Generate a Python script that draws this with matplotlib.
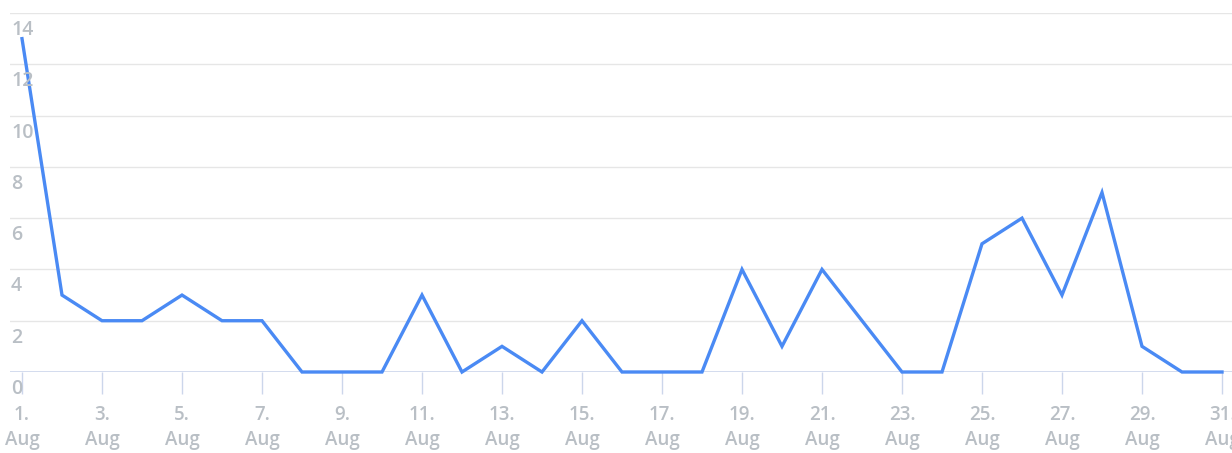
import numpy as np
import matplotlib.pyplot as plt
from matplotlib.transforms import blended_transform_factory

days = list(range(1, 32))
counts = [13, 3, 2, 2, 3, 2, 2, 0, 0, 0, 3, 0, 1, 0, 2, 0, 0, 0, 4, 1, 4, 2, 0, 0, 5, 6, 3, 7, 1, 0, 0]
y_ticks = [0, 2, 4, 6, 8, 10, 12, 14]
label_days = days[::2]
x_labels = ['%d.\nAug' % d for d in label_days]

W, H = 1232, 453
fig = plt.figure(figsize=(W / 100, H / 100), dpi=100)
ax = fig.add_axes([10 / W, (H - 372) / H, (W - 10) / W, (372 - 13) / H])

txt_color = '#b9bfc5'
font = 'Open Sans'

ax.plot(days, counts, color='#4a8af4', lw=2.4, solid_joinstyle='miter', zorder=3, clip_on=False)

ax.set_xlim(0.7, 31.25)
ax.set_ylim(0, 14)

for v in y_ticks[1:]:
    ax.axhline(v, color='#e6e6e6', lw=1, zorder=1)
ax.axhline(0, color='#ccd6eb', lw=1.2, zorder=2)

for s in ax.spines.values():
    s.set_visible(False)

ax.set_yticks([])
ax.set_xticks(label_days)
ax.set_xticklabels(x_labels, fontsize=13.5, color=txt_color, family=font,
                   fontweight='semibold', linespacing=1.3)
ax.tick_params(axis='x', length=16, width=1, color='#ccd6eb', pad=8)

trans = blended_transform_factory(fig.transFigure, ax.transData)
for v in y_ticks:
    ax.annotate(str(v), xy=(10 / W, v), xycoords=trans, xytext=(1, -17),
                textcoords='offset pixels', ha='left', va='center',
                fontsize=14, color=txt_color, family=font, fontweight='semibold')

fig.savefig('out.png', dpi=100)
